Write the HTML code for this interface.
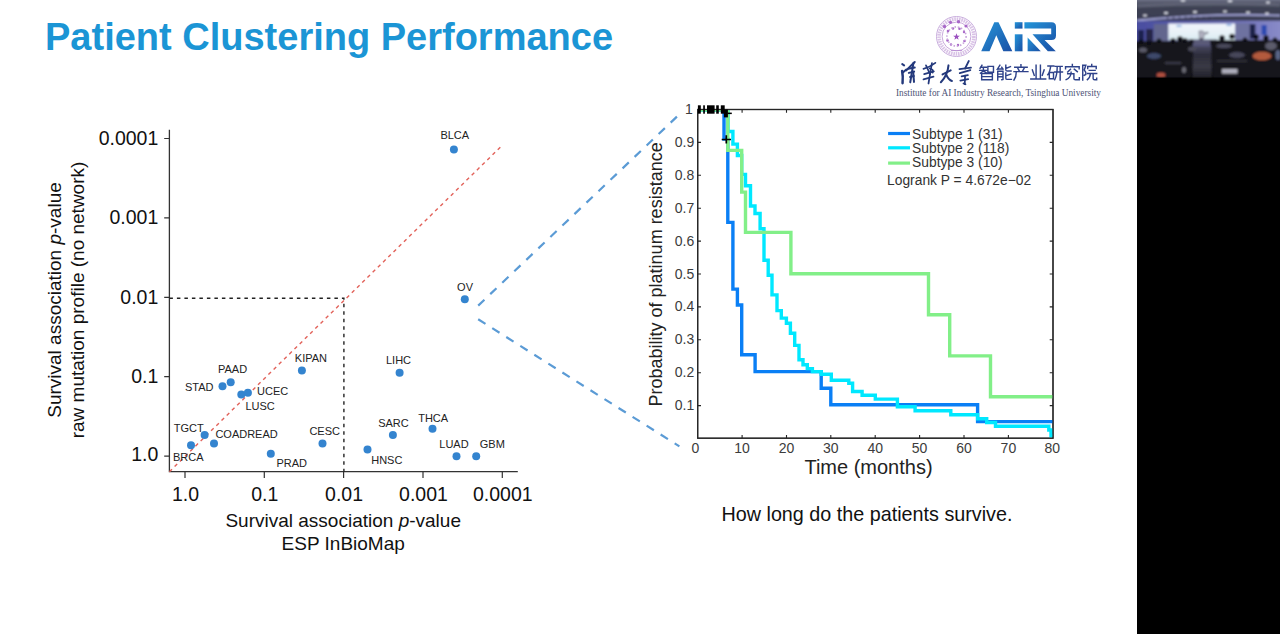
<!DOCTYPE html>
<html><head><meta charset="utf-8">
<style>
html,body{margin:0;padding:0;background:#fff;width:1280px;height:634px;overflow:hidden}
svg{display:block;position:absolute;left:0;top:0}
text{font-family:"Liberation Sans",sans-serif}
.video{position:absolute;left:1137px;top:0;width:143px;height:634px;background:#000;overflow:hidden}
</style></head>
<body>
<svg width="1280" height="634" viewBox="0 0 1280 634">
<!-- Title -->
<text x="45" y="49.8" font-size="38" font-weight="bold" fill="#1b95d5">Patient Clustering Performance</text>

<!-- ===== LEFT CHART ===== -->
<g id="left">
  <!-- axes -->
  <path d="M169.4,129.8 V471.7 H517.8" fill="none" stroke="#333" stroke-width="1.3"/>
  <!-- y ticks -->
  <path d="M164.2,138.5H169.4 M164.2,217.9H169.4 M164.2,297.3H169.4 M164.2,376.7H169.4 M164.2,456.1H169.4" stroke="#333" stroke-width="1.2"/>
  <!-- x ticks -->
  <path d="M185,471.7V478 M264.3,471.7V478 M343.6,471.7V478 M423,471.7V478 M502.3,471.7V478" stroke="#333" stroke-width="1.2"/>
  <g font-size="19.5" fill="#111" text-anchor="end">
    <text x="158.3" y="145">0.0001</text>
    <text x="158.3" y="224.3">0.001</text>
    <text x="158.3" y="303.6">0.01</text>
    <text x="158.3" y="383">0.1</text>
    <text x="158.3" y="460.9">1.0</text>
  </g>
  <g font-size="19.5" fill="#111" text-anchor="middle">
    <text x="185.5" y="501">1.0</text>
    <text x="264.8" y="501">0.1</text>
    <text x="344.1" y="501">0.01</text>
    <text x="423.5" y="501">0.001</text>
    <text x="502.8" y="501">0.0001</text>
  </g>
  <!-- axis titles -->
  <g font-size="19" fill="#111" text-anchor="middle">
    <text x="343.2" y="527.3">Survival association <tspan font-style="italic">p</tspan>-value</text>
    <text x="343.2" y="549.8">ESP InBioMap</text>
    <text transform="translate(61.3,300) rotate(-90)" x="0" y="0">Survival association <tspan font-style="italic">p</tspan>-value</text>
    <text transform="translate(83.5,300) rotate(-90)" x="0" y="0">raw mutation profile (no network)</text>
  </g>
  <!-- dashed black -->
  <path d="M169.4,298.2 H343.9 V471.7" fill="none" stroke="#222" stroke-width="1.4" stroke-dasharray="3.5,4"/>
  <!-- red diagonal -->
  <path d="M169.4,471.7 L501.5,146" fill="none" stroke="#e2625a" stroke-width="1.4" stroke-dasharray="3.6,3.7"/>
  <!-- dots -->
  <g fill="#3484cf">
    <circle cx="453.9" cy="149.6" r="4"/>
    <circle cx="464.8" cy="299.3" r="4"/>
    <circle cx="301.9" cy="370.4" r="4"/>
    <circle cx="399.6" cy="372.8" r="4"/>
    <circle cx="230.7" cy="382.2" r="4"/>
    <circle cx="222.5" cy="386.3" r="4"/>
    <circle cx="241.3" cy="394.5" r="4"/>
    <circle cx="247.9" cy="392.7" r="4"/>
    <circle cx="204.6" cy="434.9" r="4"/>
    <circle cx="191" cy="445.3" r="4"/>
    <circle cx="214" cy="443.4" r="4"/>
    <circle cx="270.8" cy="453.8" r="4"/>
    <circle cx="322.5" cy="443.5" r="4"/>
    <circle cx="367.5" cy="449.6" r="4"/>
    <circle cx="392.9" cy="435" r="4"/>
    <circle cx="432.5" cy="428.8" r="4"/>
    <circle cx="456.5" cy="456.2" r="4"/>
    <circle cx="476.2" cy="456.2" r="4"/>
  </g>
  <!-- labels -->
  <g font-size="11" fill="#222">
    <text x="440.4" y="139.3">BLCA</text>
    <text x="457.1" y="290.8">OV</text>
    <text x="294.8" y="362.2">KIPAN</text>
    <text x="386" y="363.7">LIHC</text>
    <text x="218" y="372.6">PAAD</text>
    <text x="185" y="390.9">STAD</text>
    <text x="257" y="394.8">UCEC</text>
    <text x="245.4" y="409.5">LUSC</text>
    <text x="173.8" y="431.6">TGCT</text>
    <text x="215.4" y="437.5">COADREAD</text>
    <text x="173" y="460.6">BRCA</text>
    <text x="276.5" y="467">PRAD</text>
    <text x="309.4" y="435">CESC</text>
    <text x="378.2" y="426.5">SARC</text>
    <text x="418.2" y="421.9">THCA</text>
    <text x="371.2" y="463.7">HNSC</text>
    <text x="439.3" y="448">LUAD</text>
    <text x="479.8" y="448">GBM</text>
  </g>
</g>

<!-- blue dashed connectors -->
<path d="M478.2,305.6 L677.6,116" fill="none" stroke="#5b9bd5" stroke-width="2.2" stroke-dasharray="8.6,8"/>
<path d="M478.2,319.3 L679.4,446.4" fill="none" stroke="#5b9bd5" stroke-width="2.2" stroke-dasharray="8.6,8"/>

<!-- ===== RIGHT CHART ===== -->
<g id="right">
  <rect x="697.7" y="109.5" width="355.3" height="328.7" fill="none" stroke="#262626" stroke-width="1.2"/>
  <g stroke="#262626" stroke-width="1.1">
    <path d="M742.1,438.2v-3.3 M786.5,438.2v-3.3 M830.8,438.2v-3.3 M875.2,438.2v-3.3 M919.6,438.2v-3.3 M964,438.2v-3.3 M1008.4,438.2v-3.3"/>
    <path d="M742.1,109.5v3.3 M786.5,109.5v3.3 M830.8,109.5v3.3 M875.2,109.5v3.3 M919.6,109.5v3.3 M964,109.5v3.3 M1008.4,109.5v3.3"/>
    <path d="M697.7,142.4h3.3 M697.7,175.3h3.3 M697.7,208.2h3.3 M697.7,241.1h3.3 M697.7,274h3.3 M697.7,306.9h3.3 M697.7,339.8h3.3 M697.7,372.7h3.3 M697.7,405.6h3.3"/>
    <path d="M1053,142.4h-3.3 M1053,175.3h-3.3 M1053,208.2h-3.3 M1053,241.1h-3.3 M1053,274h-3.3 M1053,306.9h-3.3 M1053,339.8h-3.3 M1053,372.7h-3.3 M1053,405.6h-3.3"/>
  </g>
  <g font-size="14" fill="#3c3c3c" text-anchor="end">
    <text x="692.8" y="113.8">1</text>
    <text x="694.3" y="146.9">0.9</text>
    <text x="694.3" y="179.8">0.8</text>
    <text x="694.3" y="212.7">0.7</text>
    <text x="694.3" y="245.6">0.6</text>
    <text x="694.3" y="278.5">0.5</text>
    <text x="694.3" y="311.4">0.4</text>
    <text x="694.3" y="344.3">0.3</text>
    <text x="694.3" y="377.2">0.2</text>
    <text x="694.3" y="410.1">0.1</text>
  </g>
  <g font-size="14" fill="#3c3c3c" text-anchor="middle">
    <text x="695.3" y="452.8">0</text>
    <text x="742.1" y="452.8">10</text>
    <text x="786.5" y="452.8">20</text>
    <text x="830.8" y="452.8">30</text>
    <text x="875.2" y="452.8">40</text>
    <text x="919.6" y="452.8">50</text>
    <text x="964" y="452.8">60</text>
    <text x="1008.4" y="452.8">70</text>
    <text x="1052.3" y="452.8">80</text>
  </g>
  <text x="868.5" y="474.4" font-size="20" fill="#222" text-anchor="middle">Time (months)</text>
  <text transform="translate(661.8,274.4) rotate(-90)" font-size="18" fill="#222" text-anchor="middle">Probability of platinum resistance</text>

  <!-- curves -->
  <clipPath id="axclip"><rect x="697.7" y="109.5" width="355.3" height="328.7"/></clipPath>
  <g fill="none" stroke-width="3.4" stroke-linejoin="miter" stroke-linecap="butt" clip-path="url(#axclip)">
    <path stroke="#0a7ff5" d="M697.7,109.8 H724 V139.1 H727.8 V222.4 H732.9 V289.1 H737.4 V305 H741.7 V354.7 H755.1 V371.6 H821.2 V388.3 H830.8 V404.8 H977.6 V421.6 H1053"/>
    <path stroke="#00e8ff" d="M697.7,109.8 H728 V131.5 H732.9 V144.1 H737.4 V155.5 H741.7 V174.4 H745.5 V185.8 H750.5 V206 H755 V213.5 H760.1 V228.7 H764 V260.2 H768.2 V275.2 H772 V294.9 H777 V310.6 H781.3 V318.1 H786.4 V323.2 H790.4 V333.3 H794.7 V345.4 H799 V359.8 H803 V364.8 H807.3 V368.6 H812.4 V371.6 H821.2 V374.2 H831.3 V380.2 H848.8 V383.3 H852.6 V391.5 H862.1 V395.3 H875.3 V399.1 H897.4 V406.7 H915.1 V410.8 H950.8 V414.7 H977.6 V418.7 H986.7 V422.5 H995.5 V426.2 H1048.8 V430 H1051 V435.7 H1053"/>
    <path stroke="#82ef88" d="M697.7,109.8 H727.8 V150.4 H741.7 V192.1 H745.5 V232.4 H790.9 V273.7 H928.5 V314.8 H949.7 V355.9 H990.5 V396.8 H1053"/>
  </g>
  <rect x="697.7" y="109.5" width="355.3" height="328.7" fill="none" stroke="#262626" stroke-width="1.2"/>
  <!-- censor marks -->
  <g fill="#000">
    <rect x="697.9" y="105.3" width="2.9" height="8.4"/>
    <rect x="703.2" y="105.3" width="1.7" height="8.4"/>
    <rect x="707" y="105.3" width="7.6" height="8.4"/>
    <rect x="716.2" y="105.3" width="2.6" height="8.4"/>
    <rect x="720.8" y="105.3" width="3.9" height="8.4"/>
    <rect x="723.9" y="109.5" width="4" height="7.9"/>
    <rect x="727.5" y="112.6" width="4.3" height="1.5"/>
  </g>
  <g stroke="#000" fill="none">
    <path d="M721.7,139.5H731 M726.3,135.3V143.6" stroke-width="1.7"/>
  </g>
  <!-- legend -->
  <g stroke-width="3.2">
    <path stroke="#0a7ff5" d="M888.1,133.5H910"/>
    <path stroke="#00e8ff" d="M888.1,147.8H910"/>
    <path stroke="#82ef88" d="M888.1,163.1H910"/>
  </g>
  <g font-size="13.8" fill="#333">
    <text x="912.1" y="138.5">Subtype 1 (31)</text>
    <text x="912.1" y="152.8">Subtype 2 (118)</text>
    <text x="912.1" y="167.3">Subtype 3 (10)</text>
    <text x="887.1" y="185">Logrank P = 4.672e−02</text>
  </g>
</g>

<!-- caption -->
<text x="721.5" y="520.6" font-size="19.75" fill="#111">How long do the patients survive.</text>

<!-- ===== LOGO ===== -->
<g id="logo">
  <defs>
    <linearGradient id="airg" x1="0" y1="0" x2="1" y2="1">
      <stop offset="0" stop-color="#2596d9"/>
      <stop offset="1" stop-color="#1b4fa5"/>
    </linearGradient>
    <filter id="soft" x="-10%" y="-10%" width="120%" height="120%"><feGaussianBlur stdDeviation="0.35"/></filter>
  </defs>
  <!-- seal -->
  <g filter="url(#soft)">
    <circle cx="956.5" cy="36.5" r="20" fill="none" stroke="#c9aedd" stroke-width="1"/>
    <circle cx="956.5" cy="36.5" r="17.4" fill="none" stroke="#c09ad6" stroke-width="3.6" stroke-dasharray="1.6,0.8" opacity="0.6"/>
    <circle cx="956.5" cy="36.5" r="14.4" fill="none" stroke="#c4a0d8" stroke-width="0.9"/>
    <g fill="#a868c8">
      <circle cx="944.5" cy="26.5" r="1.7"/><circle cx="950.5" cy="22.3" r="1.6"/><circle cx="958.5" cy="21.8" r="1.7"/><circle cx="966" cy="26" r="1.6"/>
      <circle cx="948" cy="31" r="1.3"/><circle cx="953" cy="28.5" r="1.2"/><circle cx="959.5" cy="28.8" r="1.3"/><circle cx="964" cy="32" r="1.2"/>
      <circle cx="947.5" cy="40.5" r="1.3"/><circle cx="951" cy="44.5" r="1.2"/><circle cx="958" cy="45" r="1.2"/><circle cx="964.5" cy="41" r="1.3"/>
    </g>
    <circle cx="956.5" cy="36.5" r="9.6" fill="none" stroke="#c9a5dc" stroke-width="1.6" stroke-dasharray="1.5,1.8"/>
    <path fill="#9a4fbf" d="M956.5,33.3 L957.4,35.7 L959.9,35.7 L957.9,37.3 L958.6,39.8 L956.5,38.3 L954.4,39.8 L955.1,37.3 L953.1,35.7 L955.6,35.7Z"/>
    <path d="M951,50.5 H962" stroke="#b58ad0" stroke-width="0.8"/>
  </g>
  <!-- AiR -->
  <g fill="url(#airg)" filter="url(#soft)">
    <path d="M981.2,51.3 L994.3,22.2 L998.5,22.2 L1012.3,51.3 L1003.3,51.3 L996.3,35.3 L989.5,51.3Z"/>
    <rect x="1014.8" y="22.2" width="7.7" height="6.4"/>
    <rect x="1014.8" y="34.3" width="7.7" height="17"/>
    <path d="M1024.4,22.2 H1051.5 Q1056,22.2 1056,26.7 V35.6 Q1056,40.1 1051.5,40.1 H1044.6 L1055.8,51.3 H1047.8 L1032.5,34.3 H1051.2 V28.6 H1024.4Z"/>
    <path d="M1027.6,37.5 L1040.8,51.3 H1027.6Z"/>
  </g>
  <!-- calligraphy 清華大學 -->
  <g transform="translate(896,56) scale(0.0625)" fill="none" stroke="#24397c" stroke-linecap="round" stroke-linejoin="round" filter="url(#soft)">
    <g stroke-width="32">
      <path d="M100,130 L130,150"/>
      <path d="M98,240 Q115,320 105,435" stroke-width="40"/>
      <path d="M110,265 L165,215"/>
      <path d="M165,230 Q230,160 300,95"/>
      <path d="M280,110 Q255,250 228,420" stroke-width="32"/>
      <path d="M195,205 L300,185"/>
      <path d="M205,270 L290,250"/>
      <path d="M225,335 L285,320"/>
      <path d="M275,250 L288,415"/>
    </g>
    <g stroke-width="28">
      <path d="M440,205 Q540,180 630,110"/>
      <path d="M575,115 Q545,280 520,440" stroke-width="28"/>
      <path d="M450,290 L605,245"/>
      <path d="M440,375 L600,330"/>
      <path d="M480,150 L545,290"/>
      <path d="M540,200 Q610,215 585,265"/>
    </g>
    <g stroke-width="32">
      <path d="M745,295 L875,230"/>
      <path d="M840,150 Q825,310 718,420" stroke-width="32"/>
      <path d="M805,305 Q845,385 895,400"/>
    </g>
    <g stroke-width="28">
      <path d="M1165,80 L1105,200"/>
      <path d="M1015,210 L1200,185"/>
      <path d="M1020,275 L1190,225"/>
      <path d="M1050,325 L1150,305"/>
      <path d="M1030,395 L1155,370"/>
      <path d="M1105,315 L1100,450" stroke-width="28"/>
      <path d="M1080,440 L1112,452"/>
    </g>
  </g>
  <!-- 智能产业研究院 -->
  <g fill="none" stroke="#2e428a" stroke-width="9.2" stroke-linecap="square" filter="url(#soft)">
    <g transform="translate(979.2,64.5) scale(0.155)">
      <path d="M18,4 L6,24 M10,18 H46 M3,38 H50 M27,18 V40 L8,56 M30,42 L48,56"/>
      <path d="M56,12 H92 V50 H56 Z"/>
      <path d="M16,58 H85 V98 H16 Z M16,78 H85"/>
    </g>
    <g transform="translate(996.5,64.5) scale(0.155)">
      <path d="M22,4 L6,30 L40,27 M34,18 L42,30"/>
      <path d="M8,44 V100 M8,44 H42 V96 L34,98 M8,62 H42 M8,79 H42"/>
      <path d="M60,4 V36 Q60,42 70,42 H94 M90,14 L64,24"/>
      <path d="M60,54 V88 Q60,96 70,96 H96 M92,62 L64,72"/>
    </g>
    <g transform="translate(1013.2,64.5) scale(0.155)">
      <path d="M50,2 V14 M10,18 H90 M30,25 L38,40 M70,25 L62,40 M5,46 H95 M20,46 Q20,80 5,100"/>
    </g>
    <g transform="translate(1030.5,64.5) scale(0.155)">
      <path d="M36,5 V90 M64,5 V90 M12,35 L24,70 M88,35 L76,70 M2,94 H98"/>
    </g>
    <g transform="translate(1047.3,64.5) scale(0.155)">
      <path d="M4,10 H42 M22,10 Q16,50 3,66 M13,52 H40 V92 H13 Z"/>
      <path d="M50,12 H96 M48,48 H98 M64,12 Q64,70 48,98 M83,12 V100"/>
    </g>
    <g transform="translate(1064.6,64.5) scale(0.155)">
      <path d="M50,0 V10 M6,28 V15 H94 V28 M38,30 L20,48 M62,30 L82,46"/>
      <path d="M20,60 H60 V90 Q60,98 70,98 H95 V86 M42,50 Q40,86 10,98"/>
    </g>
    <g transform="translate(1081.5,64.5) scale(0.155)">
      <path d="M8,5 V100 M8,5 H28 L18,35 Q32,50 28,64 L18,70"/>
      <path d="M66,0 V8 M40,26 V13 H95 V26 M50,38 H88 M38,58 H98 M58,58 Q55,86 38,98 M75,58 V90 Q75,98 85,98 H98 V88"/>
    </g>
  </g>
  <text x="896" y="95.5" font-family="Liberation Serif" font-size="9.5" fill="#4d5275" textLength="205" lengthAdjust="spacingAndGlyphs" style="font-family:'Liberation Serif',serif">Institute for AI Industry Research,  Tsinghua University</text>
</g>
</svg>
<div class="video">
<svg width="143" height="634" viewBox="0 0 143 634" style="position:absolute;left:0;top:0">
  <defs>
    <filter id="vb" x="-5%" y="-5%" width="110%" height="110%"><feGaussianBlur stdDeviation="0.9"/></filter>
    <linearGradient id="ceil" x1="0" y1="0" x2="0" y2="1">
      <stop offset="0" stop-color="#7c8096"/>
      <stop offset="0.15" stop-color="#595d70"/>
      <stop offset="0.35" stop-color="#3e4252"/>
      <stop offset="0.8" stop-color="#3a3d52"/>
      <stop offset="1" stop-color="#6a6ca0"/>
    </linearGradient>
    <linearGradient id="wall" x1="0" y1="0" x2="1" y2="0">
      <stop offset="0" stop-color="#4a4ea0"/>
      <stop offset="0.45" stop-color="#5a5caa"/>
      <stop offset="0.75" stop-color="#7375bc"/>
      <stop offset="1" stop-color="#8a8cc8"/>
    </linearGradient>
    <linearGradient id="scr" x1="0" y1="0" x2="0" y2="1">
      <stop offset="0" stop-color="#f2f5fb"/>
      <stop offset="0.7" stop-color="#e4f0f6"/>
      <stop offset="1" stop-color="#d4e8ee"/>
    </linearGradient>
    <linearGradient id="aisle" x1="0" y1="0" x2="0" y2="1">
      <stop offset="0" stop-color="#4a4a64"/>
      <stop offset="0.3" stop-color="#2c2c3a"/>
      <stop offset="0.65" stop-color="#3a3a46"/>
      <stop offset="1" stop-color="#202028"/>
    </linearGradient>
  </defs>
  <g filter="url(#vb)">
    <rect x="-2" y="-2" width="147" height="26" fill="url(#ceil)"/>
    <path d="M0,6 Q70,2 143,5" stroke="#5e6274" stroke-width="3" fill="none"/>
    <path d="M0,20.5 Q70,13 143,15.5" stroke="#a0a2d4" stroke-width="1.8" fill="none"/>
    <g fill="#e4e6f0">
      <ellipse cx="8" cy="15.5" rx="2" ry="1"/><ellipse cx="29" cy="13" rx="2.2" ry="1"/><ellipse cx="58" cy="12" rx="2.2" ry="1"/>
      <ellipse cx="88" cy="11.5" rx="2" ry="1"/><ellipse cx="111" cy="12.5" rx="2.2" ry="1"/><ellipse cx="130" cy="13.5" rx="2" ry="1"/>
      <ellipse cx="46" cy="0.5" rx="2.5" ry="1"/><ellipse cx="93" cy="1" rx="2.5" ry="1"/><ellipse cx="131" cy="2.5" rx="2" ry="1"/>
    </g>
    <g fill="#2a2c50"><rect x="30" y="17" width="1" height="3"/><rect x="36" y="17" width="1" height="3"/><rect x="42" y="16.5" width="1" height="3"/><rect x="48" y="16.5" width="1" height="3"/><rect x="54" y="16.5" width="1" height="3"/><rect x="60" y="16.5" width="1" height="3"/><rect x="66" y="16.5" width="1" height="3"/><rect x="72" y="16.5" width="1" height="3"/></g>
    <rect x="-2" y="21" width="147" height="26" fill="url(#wall)"/>
    <rect x="1" y="30" width="6" height="13" fill="#1e2150"/>
    <rect x="9" y="29" width="7" height="14" fill="#262846"/>
    <rect x="16.8" y="24" width="14.5" height="19" fill="#62668e"/>
    <rect x="31.3" y="23.5" width="67" height="16.8" fill="url(#scr)"/>
    <ellipse cx="42" cy="26" rx="3" ry="1" fill="#8ab0e0"/><ellipse cx="92" cy="25" rx="3" ry="1" fill="#8ab0e0"/>
    <rect x="98.3" y="23" width="14.5" height="19" fill="#6e72a0"/>
    <rect x="112.8" y="24" width="5.6" height="15" fill="#1f2248"/>
    <rect x="124.6" y="25" width="5" height="10" fill="#2c48b0"/>
    <path d="M62,31 h4 l1,2 l4,-1 v1.3 l-4,1.2 l-0.3,4 h-4.2 z" fill="#b0b0c0" stroke="#404050" stroke-width="0.5"/>
    <path d="M62.5,38.5 h3.5 l0.5,6.5 h-1.5 l-0.8,-4.5 l-1,4.5 h-1.5 z" fill="#2a2a36"/>
    <rect x="45" y="39.5" width="35" height="6" fill="#5a5a78"/>
    <!-- audience base -->
    <path d="M-2,41 H56 L54,78 H-2Z" fill="#16161d"/>
    <path d="M73,40 H145 V78 H76Z" fill="#16161e"/>
    <path d="M56,45.6 H74 L75,78 H55Z" fill="url(#aisle)"/>
    <g fill="#101016">
      <circle cx="36" cy="41" r="2.8"/><circle cx="43" cy="39" r="2.8"/><circle cx="48" cy="40.5" r="2.5"/><circle cx="54.5" cy="41.5" r="2.3"/>
      <circle cx="22" cy="41" r="2.5"/><circle cx="12" cy="43" r="2.6"/><circle cx="4" cy="42" r="2.5"/>
      <circle cx="85" cy="38" r="2.8"/><circle cx="95" cy="36.5" r="2.8"/><circle cx="119" cy="37" r="2.8"/><circle cx="129" cy="38" r="2.8"/><circle cx="108" cy="40" r="2.5"/><circle cx="138" cy="40" r="2.5"/>
    </g>
    <ellipse cx="6" cy="50" rx="4" ry="2.5" fill="#5a5a68"/>
    <ellipse cx="17" cy="56" rx="7" ry="3" fill="#3e4a6c"/>
    <ellipse cx="55" cy="49" rx="4" ry="2.5" fill="#4a4a58"/>
    <rect x="28" y="62" width="16" height="2" fill="#3a3a46"/>
    <ellipse cx="24" cy="75" rx="4.5" ry="2.5" fill="#b05040"/>
    <ellipse cx="47" cy="70" rx="2" ry="3" fill="#6a6a74"/>
    <ellipse cx="87" cy="46" rx="8" ry="2.2" fill="#4a4a5c"/>
    <ellipse cx="100" cy="55" rx="8" ry="3" fill="#46465a"/>
    <ellipse cx="125" cy="56" rx="9.5" ry="4.3" fill="#b35a3c"/>
    <ellipse cx="134" cy="46" rx="6" ry="4" fill="#5c5c6c"/>
    <ellipse cx="141" cy="55" rx="2.5" ry="5" fill="#5a6688"/>
    <rect x="85" y="69" width="15.5" height="4.6" fill="#aeaebc"/>
    <rect x="80" y="60" width="30" height="2" fill="#2e2e38"/>
  </g>
  <rect x="0" y="77.8" width="143" height="556.2" fill="#000"/>
</svg>
</div>
</body></html>
